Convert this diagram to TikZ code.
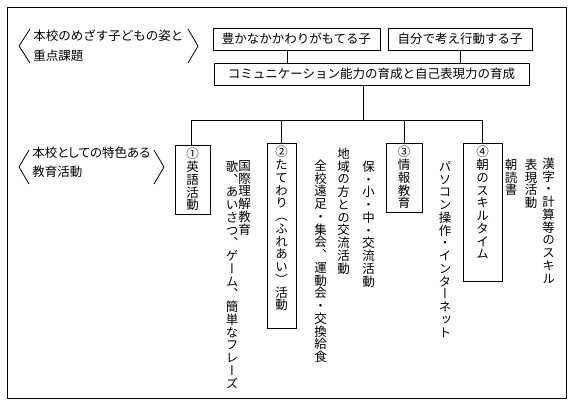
\documentclass[tikz,border=0pt]{standalone}
\usepackage{fontspec}
\setmainfont{Noto Sans CJK JP}
\newfontfamily\tatefont[RawFeature=+vert]{Noto Sans CJK JP}
\newfontfamily\propfont[RawFeature=+palt]{Noto Sans CJK JP}
\usetikzlibrary{positioning,calc}

% vertical (tategaki) column: one character per cell
\newlength\tatesep
\setlength\tatesep{0.25pt}
\newcommand\tate[1]{\vbox{\offinterlineskip\tatefont\tateloop#1\relax}}
\def\tateloop#1{\ifx\relax#1\else
  \hbox to 1em{\hss#1\hss\vrule height .88em depth .12em width 0pt}%
  \kern\tatesep\expandafter\tateloop\fi}

\begin{document}
\begin{tikzpicture}[x=1pt,y=-1pt,
    font=\fontsize{12.5}{15}\selectfont,
    line width=.8pt,
    plain/.style={anchor=west,inner sep=0pt},
    goalbox/.style={draw,minimum height=22pt,inner sep=0pt},
    katsubox/.style={draw,anchor=north,inner xsep=0pt,inner ysep=2.5pt},
    tatetext/.style={anchor=north,inner sep=0pt}]
  \useasboundingbox (0,0) rectangle (574,401);
  \draw (7,7) rectangle (566,398);

  % aims
  \draw (30,29) -- (19,46) -- (30,63);
  \draw (188,29) -- (198,46) -- (188,63);
  \node[plain] (aimA) at (33,36) {本校のめざす子どもの姿と};
  \node[plain] (aimB) at (33,56) {重点課題};

  \node[goalbox,minimum width=167] (rich) at (296.5,39) {豊かなかかわりがもてる子};
  \node[goalbox,minimum width=144] (self) at (460,39) {自分で考え行動する子};
  \node[goalbox,minimum width=315] (comm) at (371.5,74)
    {コミュニケーション能力の育成と自己表現力の育成};
  \draw ($(rich.south)+(-9.5,0)$) -- ++(0,13);
  \draw (self.south) -- (self.south |- comm.north);

  % features
  \draw (29,150) -- (19,167) -- (29,184);
  \draw (154,150) -- (164,167) -- (154,184);
  \node[plain] (featA) at (32,153) {\propfont 本校としての特色ある};
  \node[plain] (featB) at (32,172) {\propfont 教育活動};

  \node[katsubox,minimum width=35] (eng) at (192.5,145) {\tate{①英語活動}};
  \node[katsubox,minimum width=29,text depth=14.25pt] (tatewari) at (281.5,143)
    {\tate{②たてわり（ふれあい）活動}};
  \node[katsubox,minimum width=36] (info) at (404,143) {\tate{③情報教育}};
  \node[katsubox,minimum width=39,text depth=18.25pt] (skill) at (482.5,143)
    {\tate{④朝のスキルタイム}};

  \draw ($(comm.south)+(-8.5,0)$) -- ++(0,35);
  \draw ($(eng.north)+(-1.5,0)$) -- ++(0,-25) -| (skill.north);
  \draw (tatewari.north) -- ++(0,-23);
  \draw (info.north) -- ++(0,-23);

  \node[tatetext] (kokusai) at (244.5,159) {\tate{国際理解教育}};
  \node[tatetext] (uta) at (232,160) {\tate{歌、あいさつ、ゲーム、簡単なフレーズ}};
  \node[tatetext] (ensoku) at (320.5,159) {\tate{全校遠足・集会、運動会・交換給食}};
  \node[tatetext] (chiiki) at (343.5,147) {\tate{地域の方との交流活動}};
  \node[tatetext] (hoshou) at (368.5,160) {\tate{保・小・中・交流活動}};
  \node[tatetext] (pc) at (445,160) {\tate{パソコン操作・インターネット}};
  \node[tatetext] (dokusho) at (511,158) {\tate{朝読書}};
  \node[tatetext] (hyougen) at (531,158) {\tate{表現活動}};
  \node[tatetext] (kanji) at (548.5,157) {\tate{漢字・計算等のスキル}};
\end{tikzpicture}
\end{document}
